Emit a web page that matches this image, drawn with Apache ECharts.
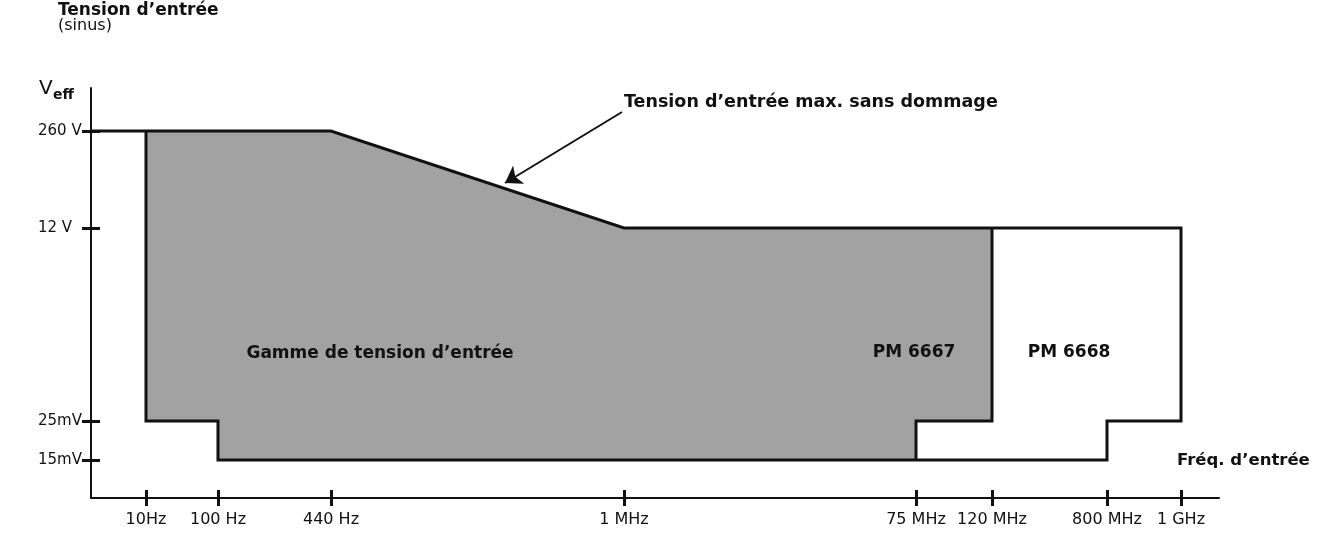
<!DOCTYPE html>
<html>
<head>
<meta charset="utf-8">
<title>Tension d’entrée</title>
<script src="https://cdn.jsdelivr.net/npm/echarts@6/dist/echarts.min.js"></script>
<style>
  html, body { margin: 0; padding: 0; background: #fff; }
  #chart { width: 1321px; height: 538px; }
</style>
</head>
<body>
<div id="chart"></div>
<script>
// schematic axes: the drawing is not to scale, each label sits at its own position
const freqLabels = ['10Hz', '100 Hz', '440 Hz', '1 MHz', '75 MHz', '120 MHz', '800 MHz', '1 GHz'];
const freqPos = [55, 127, 240, 533, 825, 901, 1016, 1090];
const levelLabels = ['15mV', '25mV', '12 V', '260 V'];
const levelPos = [38, 77, 270, 367];

// PM 6667 range (grey area)
const pm6667 = [
  ['10Hz', '260 V'], ['440 Hz', '260 V'], ['1 MHz', '12 V'], ['120 MHz', '12 V'],
  ['120 MHz', '25mV'], ['75 MHz', '25mV'], ['75 MHz', '15mV'], ['100 Hz', '15mV'],
  ['100 Hz', '25mV'], ['10Hz', '25mV']
];
// outer outline (PM 6668), starts on the y axis at 260 V
const outline = [
  [null, '260 V'], ['440 Hz', '260 V'], ['1 MHz', '12 V'], ['1 GHz', '12 V'],
  ['1 GHz', '25mV'], ['800 MHz', '25mV'], ['800 MHz', '15mV'], ['100 Hz', '15mV'],
  ['100 Hz', '25mV'], ['10Hz', '25mV'], ['10Hz', '260 V']
];
// PM 6667 upper limit inside PM 6668
const pm6667Edge = [
  ['120 MHz', '12 V'], ['120 MHz', '25mV'], ['75 MHz', '25mV'], ['75 MHz', '15mV']
];
// annotation arrow (axis units)
const arrowFrom = [531, 386];
const arrowTo = [414, 315];

const pt = ([f, l]) => [
  f === null ? 0 : freqPos[freqLabels.indexOf(f)],
  levelPos[levelLabels.indexOf(l)]
];

const FONT = 'DejaVu Sans';
const INK = '#111';

const chart = echarts.init(document.getElementById('chart'), null, { renderer: 'canvas' });

const xBase = {
  type: 'value', min: 0, max: 1128, position: 'bottom',
  splitLine: { show: false }
};
const yBase = {
  type: 'value', min: 0, max: 410, position: 'left',
  splitLine: { show: false }
};

const option = {
  animation: false,
  backgroundColor: '#fff',
  grid: { left: 91, right: 102, top: 88, bottom: 40 },
  xAxis: [
    Object.assign({}, xBase, {
      axisLine: { show: true, lineStyle: { color: INK, width: 2 } },
      axisTick: { show: true, customValues: freqPos, length: 8, lineStyle: { color: INK, width: 3 } },
      axisLabel: {
        customValues: freqPos,
        formatter: v => freqLabels[freqPos.indexOf(v)],
        margin: 14, fontSize: 16, fontFamily: FONT, color: INK
      }
    }),
    Object.assign({}, xBase, {
      axisLine: { show: false },
      axisTick: { show: true, inside: true, customValues: freqPos, length: 8, lineStyle: { color: INK, width: 3 } },
      axisLabel: { show: false }
    })
  ],
  yAxis: [
    Object.assign({}, yBase, {
      axisLine: { show: true, lineStyle: { color: INK, width: 2 } },
      axisTick: { show: true, customValues: levelPos, length: 9, lineStyle: { color: INK, width: 3 } },
      axisLabel: {
        customValues: levelPos,
        formatter: v => levelLabels[levelPos.indexOf(v)],
        align: 'left', margin: 53, fontSize: 15, fontFamily: FONT, color: INK
      }
    }),
    Object.assign({}, yBase, {
      axisLine: { show: false },
      axisTick: { show: true, inside: true, customValues: levelPos, length: 9, lineStyle: { color: INK, width: 3 } },
      axisLabel: { show: false }
    })
  ],
  series: [
    {
      type: 'custom',
      coordinateSystem: 'cartesian2d',
      clip: false,
      silent: true,
      data: [[0, 0]],
      renderItem: (params, api) => ({
        type: 'polygon',
        shape: { points: pm6667.map(p => api.coord(pt(p))) },
        style: { fill: '#a2a2a2', stroke: null }
      }),
      z: 1
    },
    {
      type: 'line',
      data: outline.map(pt),
      symbol: 'none',
      lineStyle: { color: INK, width: 3, join: 'miter' },
      z: 3
    },
    {
      type: 'line',
      data: pm6667Edge.map(pt),
      symbol: 'none',
      lineStyle: { color: INK, width: 3, join: 'miter' },
      z: 3
    },
    {
      type: 'lines',
      coordinateSystem: 'cartesian2d',
      data: [{ coords: [arrowFrom, arrowTo] }],
      symbol: ['none', 'arrow'],
      symbolSize: 16,
      lineStyle: { color: INK, width: 2, opacity: 1 },
      z: 4
    }
  ],
  graphic: [
    { type: 'text', left: 58, top: 2, style: { text: 'Tension d’entrée', font: `bold 17px "${FONT}"`, fill: INK } },
    { type: 'text', left: 58, top: 18, style: { text: '(sinus)', font: `16px "${FONT}"`, fill: INK } },
    { type: 'text', left: 39, top: 79, style: { text: 'V', font: `20px "${FONT}"`, fill: INK } },
    { type: 'text', left: 53, top: 88, style: { text: 'eff', font: `bold 14px "${FONT}"`, fill: INK } },
    { type: 'text', left: 624, top: 93, style: { text: 'Tension d’entrée max. sans dommage', font: `bold 17.5px "${FONT}"`, fill: INK } },
    { type: 'text', x: 380, y: 354, style: { text: 'Gamme de tension d’entrée', font: `bold 17px "${FONT}"`, fill: INK, align: 'center', verticalAlign: 'middle' }, z: 10 },
    { type: 'text', x: 914, y: 353, style: { text: 'PM 6667', font: `bold 17px "${FONT}"`, fill: INK, align: 'center', verticalAlign: 'middle' }, z: 10 },
    { type: 'text', x: 1069, y: 353, style: { text: 'PM 6668', font: `bold 17px "${FONT}"`, fill: INK, align: 'center', verticalAlign: 'middle' }, z: 10 },
    { type: 'text', x: 1177, y: 461, style: { text: 'Fréq. d’entrée', font: `bold 16.5px "${FONT}"`, fill: INK, verticalAlign: 'middle' }, z: 10 }
  ]
};

chart.setOption(option);
window.addEventListener('resize', () => chart.resize());
</script>
</body>
</html>
